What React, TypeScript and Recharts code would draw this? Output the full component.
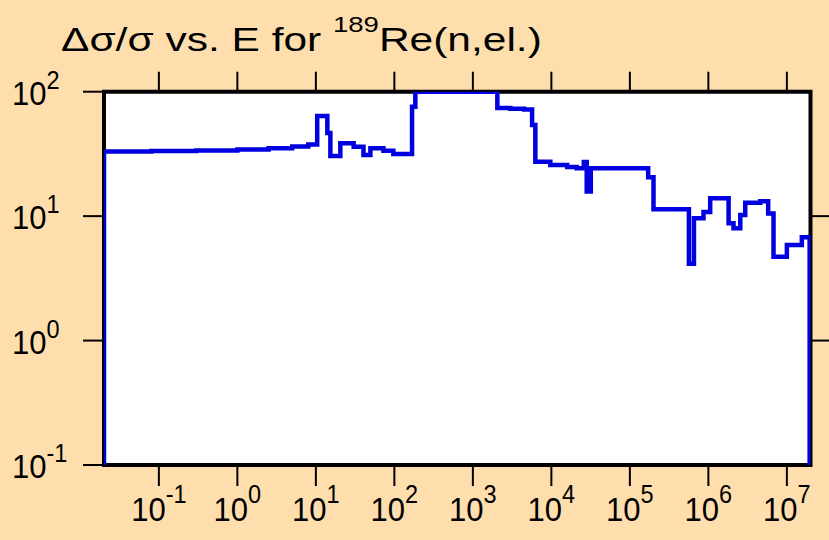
import { LineChart, Line, XAxis, YAxis, CartesianGrid, ReferenceArea } from 'recharts'

// energy (eV) where each step starts, and the relative uncertainty (%) held until the next energy
const energy = [
  0.02, 0.02, 0.08, 0.3, 1, 2.5, 5, 8, 10.4, 14, 15.3, 20.5, 30.3, 40.4, 49.5, 72.6, 97,
  168, 185, 2050, 3000, 4500, 5680, 6250, 9700, 15900, 21000, 25900, 28200, 31800,
  171000, 200000, 565000, 655000, 867000, 1.055e6, 1.81e6, 2.09e6, 2.55e6, 2.95e6,
  4.57e6, 5.78e6, 6.76e6, 1.0e7, 1.55e7, 1.95e7,
]
const relUnc = [
  0.1, 33, 33.3, 33.7, 34.3, 35.2, 36.3, 37.6, 63.8, 46.6, 30.4, 38.5, 36.1, 31, 35.1, 33.6, 31.6,
  75.7, 100, 74, 73, 72, 54, 27.4, 25.8, 24.8, 24.3, 27.2, 15.8, 24.2,
  20.5, 11.35, 4.14, 9.6, 10.8, 13.9, 8.75, 8.0, 10.2, 12.8,
  13.2, 10.5, 4.72, 5.86, 6.76, 0.1,
]

const xTicks = [0.1, 1, 10, 100, 1e3, 1e4, 1e5, 1e6, 1e7]
const yTicks = [0.1, 1, 10, 100]
const yTicksRight = [1, 10]
const xDomain = [0.02, 2e7]
const yDomain = [0.1, 100]

const data = energy.map((e, i) => ({ e, v: relUnc[i] }))

const FONT = '"Liberation Sans", Arial, Helvetica, sans-serif'
const TICK = 20

function expOf(v: number) {
  return String(Math.round(Math.log10(v)))
}

// label y = axis y + TICK (tickMargin 0), so the mark runs back up to the axis
function BottomTick(props: any) {
  const { x, y, payload } = props
  return (
    <g>
      <line x1={x} x2={x} y1={y - TICK} y2={y + 1} stroke="#000" strokeWidth={2} />
      <g transform={`translate(${x},${y + 36}) scale(0.94,1)`}>
        <text x={0} y={0} textAnchor="middle" fontFamily={FONT} fontSize={33} fill="#000">
          <tspan>10</tspan>
          <tspan dy={-18} fontSize={25}>{expOf(payload.value)}</tspan>
        </text>
      </g>
    </g>
  )
}

function TopTick(props: any) {
  const { x, y } = props
  return <line x1={x} x2={x} y1={y} y2={y + TICK} stroke="#000" strokeWidth={2} />
}

function LeftTick(props: any) {
  const { x, y, payload } = props
  return (
    <g>
      <line x1={x - 1} x2={x + TICK} y1={y} y2={y} stroke="#000" strokeWidth={2} />
      <g transform={`translate(12,${y + 13}) scale(0.94,1)`}>
        <text x={0} y={0} textAnchor="start" fontFamily={FONT} fontSize={33} fill="#000">
          <tspan>10</tspan>
          <tspan dy={-16} fontSize={25}>{expOf(payload.value)}</tspan>
        </text>
      </g>
    </g>
  )
}

function RightTick(props: any) {
  const { x, y } = props
  return <line x1={x - TICK} x2={x} y1={y} y2={y} stroke="#000" strokeWidth={2} />
}

export default function App() {
  return (
    <div style={{ position: 'absolute', left: 0, top: 0, width: 829, height: 540, background: '#FFDEAD' }}>
      <svg width={829} height={540} style={{ position: 'absolute', left: 0, top: 0 }}>
        <g transform="translate(61,51) scale(1.25,1)">
          <text x={0} y={0} fontFamily={FONT} fontSize={34} fill="#000">
            <tspan>Δσ/σ vs. E for </tspan>
            <tspan dy={-19} fontSize={22}>189</tspan>
            <tspan dy={19}>Re(n,el.)</tspan>
          </text>
        </g>
      </svg>
      <div style={{ position: 'absolute', left: 0, top: 0 }}>
        <LineChart
          width={829}
          height={540}
          data={data}
          margin={{ top: 71.7, right: 0, bottom: 15, left: 14 }}
        >
          <CartesianGrid xAxisId="bottom" yAxisId="left" horizontal={false} vertical={false} fill="#ffffff" />
          <XAxis
            xAxisId="bottom"
            dataKey="e"
            type="number"
            scale="log"
            domain={xDomain}
            allowDataOverflow
            ticks={xTicks}
            interval={0}
            height={60}
            tickSize={TICK}
            tickMargin={0}
            axisLine={false}
            tickLine={false}
            tick={<BottomTick />}
          />
          <XAxis
            xAxisId="top"
            orientation="top"
            dataKey="e"
            type="number"
            scale="log"
            domain={xDomain}
            allowDataOverflow
            ticks={xTicks}
            interval={0}
            height={20}
            tickSize={TICK}
            tickMargin={0}
            axisLine={false}
            tickLine={false}
            tick={<TopTick />}
          />
          <YAxis
            yAxisId="left"
            type="number"
            scale="log"
            domain={yDomain}
            allowDataOverflow
            ticks={yTicks}
            interval={0}
            width={90}
            tickSize={TICK}
            tickMargin={0}
            axisLine={false}
            tickLine={false}
            tick={<LeftTick />}
          />
          <YAxis
            yAxisId="right"
            orientation="right"
            type="number"
            scale="log"
            domain={yDomain}
            allowDataOverflow
            ticks={yTicksRight}
            interval={0}
            width={18.5}
            tickSize={TICK}
            tickMargin={0}
            axisLine={false}
            tickLine={false}
            tick={<RightTick />}
          />
          <ReferenceArea
            xAxisId="bottom"
            yAxisId="left"
            x1={xDomain[0]}
            x2={xDomain[1]}
            y1={yDomain[0]}
            y2={yDomain[1]}
            fill="none"
            stroke="#000"
            strokeWidth={4}
          />
          <Line
            xAxisId="bottom"
            yAxisId="left"
            type="stepAfter"
            dataKey="v"
            stroke="#0000e0"
            strokeWidth={4.5}
            dot={false}
            activeDot={false}
            isAnimationActive={false}
          />
          <Line
            xAxisId="top"
            yAxisId="right"
            dataKey="v"
            stroke="none"
            dot={false}
            activeDot={false}
            legendType="none"
            isAnimationActive={false}
          />
        </LineChart>
      </div>
    </div>
  )
}
